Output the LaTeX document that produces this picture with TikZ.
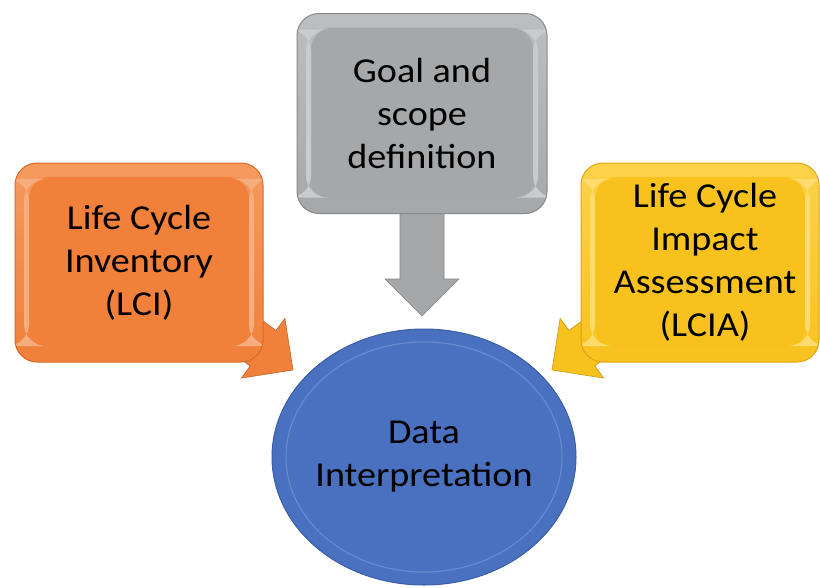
\documentclass[tikz,border=0pt]{standalone}
\usepackage{fontspec}
\setmainfont{Carlito}[FakeStretch=1.09]
\usetikzlibrary{calc,shapes.geometric}
\definecolor{orangeM}{HTML}{F0803A}
\definecolor{orangeL}{HTML}{F59A5E}
\definecolor{orangeD}{HTML}{D8692A}
\definecolor{yellowM}{HTML}{F8C21E}
\definecolor{yellowL}{HTML}{FCD24A}
\definecolor{yellowD}{HTML}{DDA512}
\definecolor{grayM}{HTML}{A6A7A9}
\definecolor{grayL}{HTML}{BDBEC0}
\definecolor{grayD}{HTML}{88898B}
\definecolor{blueM}{HTML}{4A70C0}
\definecolor{blueL}{HTML}{6689CF}
\definecolor{blueD}{HTML}{3A5DA8}
\tikzset{
  bevelbox/.style n args={3}{rounded corners=22pt, draw=#3, line width=1pt,
    top color=#2, bottom color=#1, minimum width=250pt, minimum height=200pt,
    align=center, font=\fontsize{35}{43}\selectfont, text=black, inner sep=0pt,
    path picture={\fill[#1] ($(path picture bounding box.south west)+(14pt,14pt)$)
      rectangle ($(path picture bounding box.north east)-(14pt,14pt)$);
      \fill[#2!80!white] ($(path picture bounding box.south west)+(9pt,16pt)$)
      rectangle ($(path picture bounding box.north west)+(14pt,-16pt)$);
      \fill[#2!80!white] ($(path picture bounding box.south east)+(-14pt,16pt)$)
      rectangle ($(path picture bounding box.north east)+(-9pt,-16pt)$);}},
  boxtext/.style={align=center, font=\fontsize{35}{43}\selectfont, text=black},
  blockarr/.style={fill=#1, draw=#1!80!black, line width=0.6pt, line join=miter}
}
\newcommand\myblockarrow[3]{%
  \path[blockarr=#3]
    ($(#1)!22pt!90:(#2)$) --
    ($($(#2)!37pt!(#1)$)!22pt!90:(#2)$) --
    ($($(#2)!37pt!(#1)$)!37pt!90:(#2)$) --
    (#2) --
    ($($(#2)!37pt!(#1)$)!37pt!-90:(#2)$) --
    ($($(#2)!37pt!(#1)$)!22pt!-90:(#2)$) --
    ($(#1)!22pt!-90:(#2)$) -- cycle;}
\begin{document}
\begin{tikzpicture}[x=1pt,y=-1pt]
\useasboundingbox (0,0) rectangle (820,587);
% arrow anchors
\coordinate (gs) at (422,190);
\coordinate (gt) at (422,316);
\coordinate (os) at (212,311);
\coordinate (ot) at (293,370);
\coordinate (ys) at (633,311);
\coordinate (yt) at (552,370);
% arrows (below boxes)
\myblockarrow{gs}{gt}{grayM}
\myblockarrow{os}{ot}{orangeM}
\myblockarrow{ys}{yt}{yellowM}
% boxes
\node[bevelbox={grayM}{grayL}{grayD}] (goal) at (422,113.5) {Goal and\\scope\\definition};
\node[bevelbox={orangeM}{orangeL}{orangeD}, minimum width=248pt, minimum height=199pt] (lci) at (139,262.5) {Life Cycle\\Inventory\\(LCI)};
\node[bevelbox={yellowM}{yellowL}{yellowD}, minimum width=238pt, minimum height=199pt] (lcia) at (700,262.5) {};
\node[boxtext] (lciatext) at (705,262.5) {Life Cycle\\Impact\\Assessment\\(LCIA)};
% ellipse
\node[ellipse, draw=blueD, line width=1pt, fill=blueM, minimum width=304pt, minimum height=256pt,
  inner sep=0pt] (interp) at (424,457) {};
\draw[blueL, line width=1.2pt, fill=blueM] (interp.center) ellipse [x radius=138pt, y radius=115pt];
\node[boxtext] (interptext) at (interp.center) {Data\\Interpretation};
\end{tikzpicture}
\end{document}
